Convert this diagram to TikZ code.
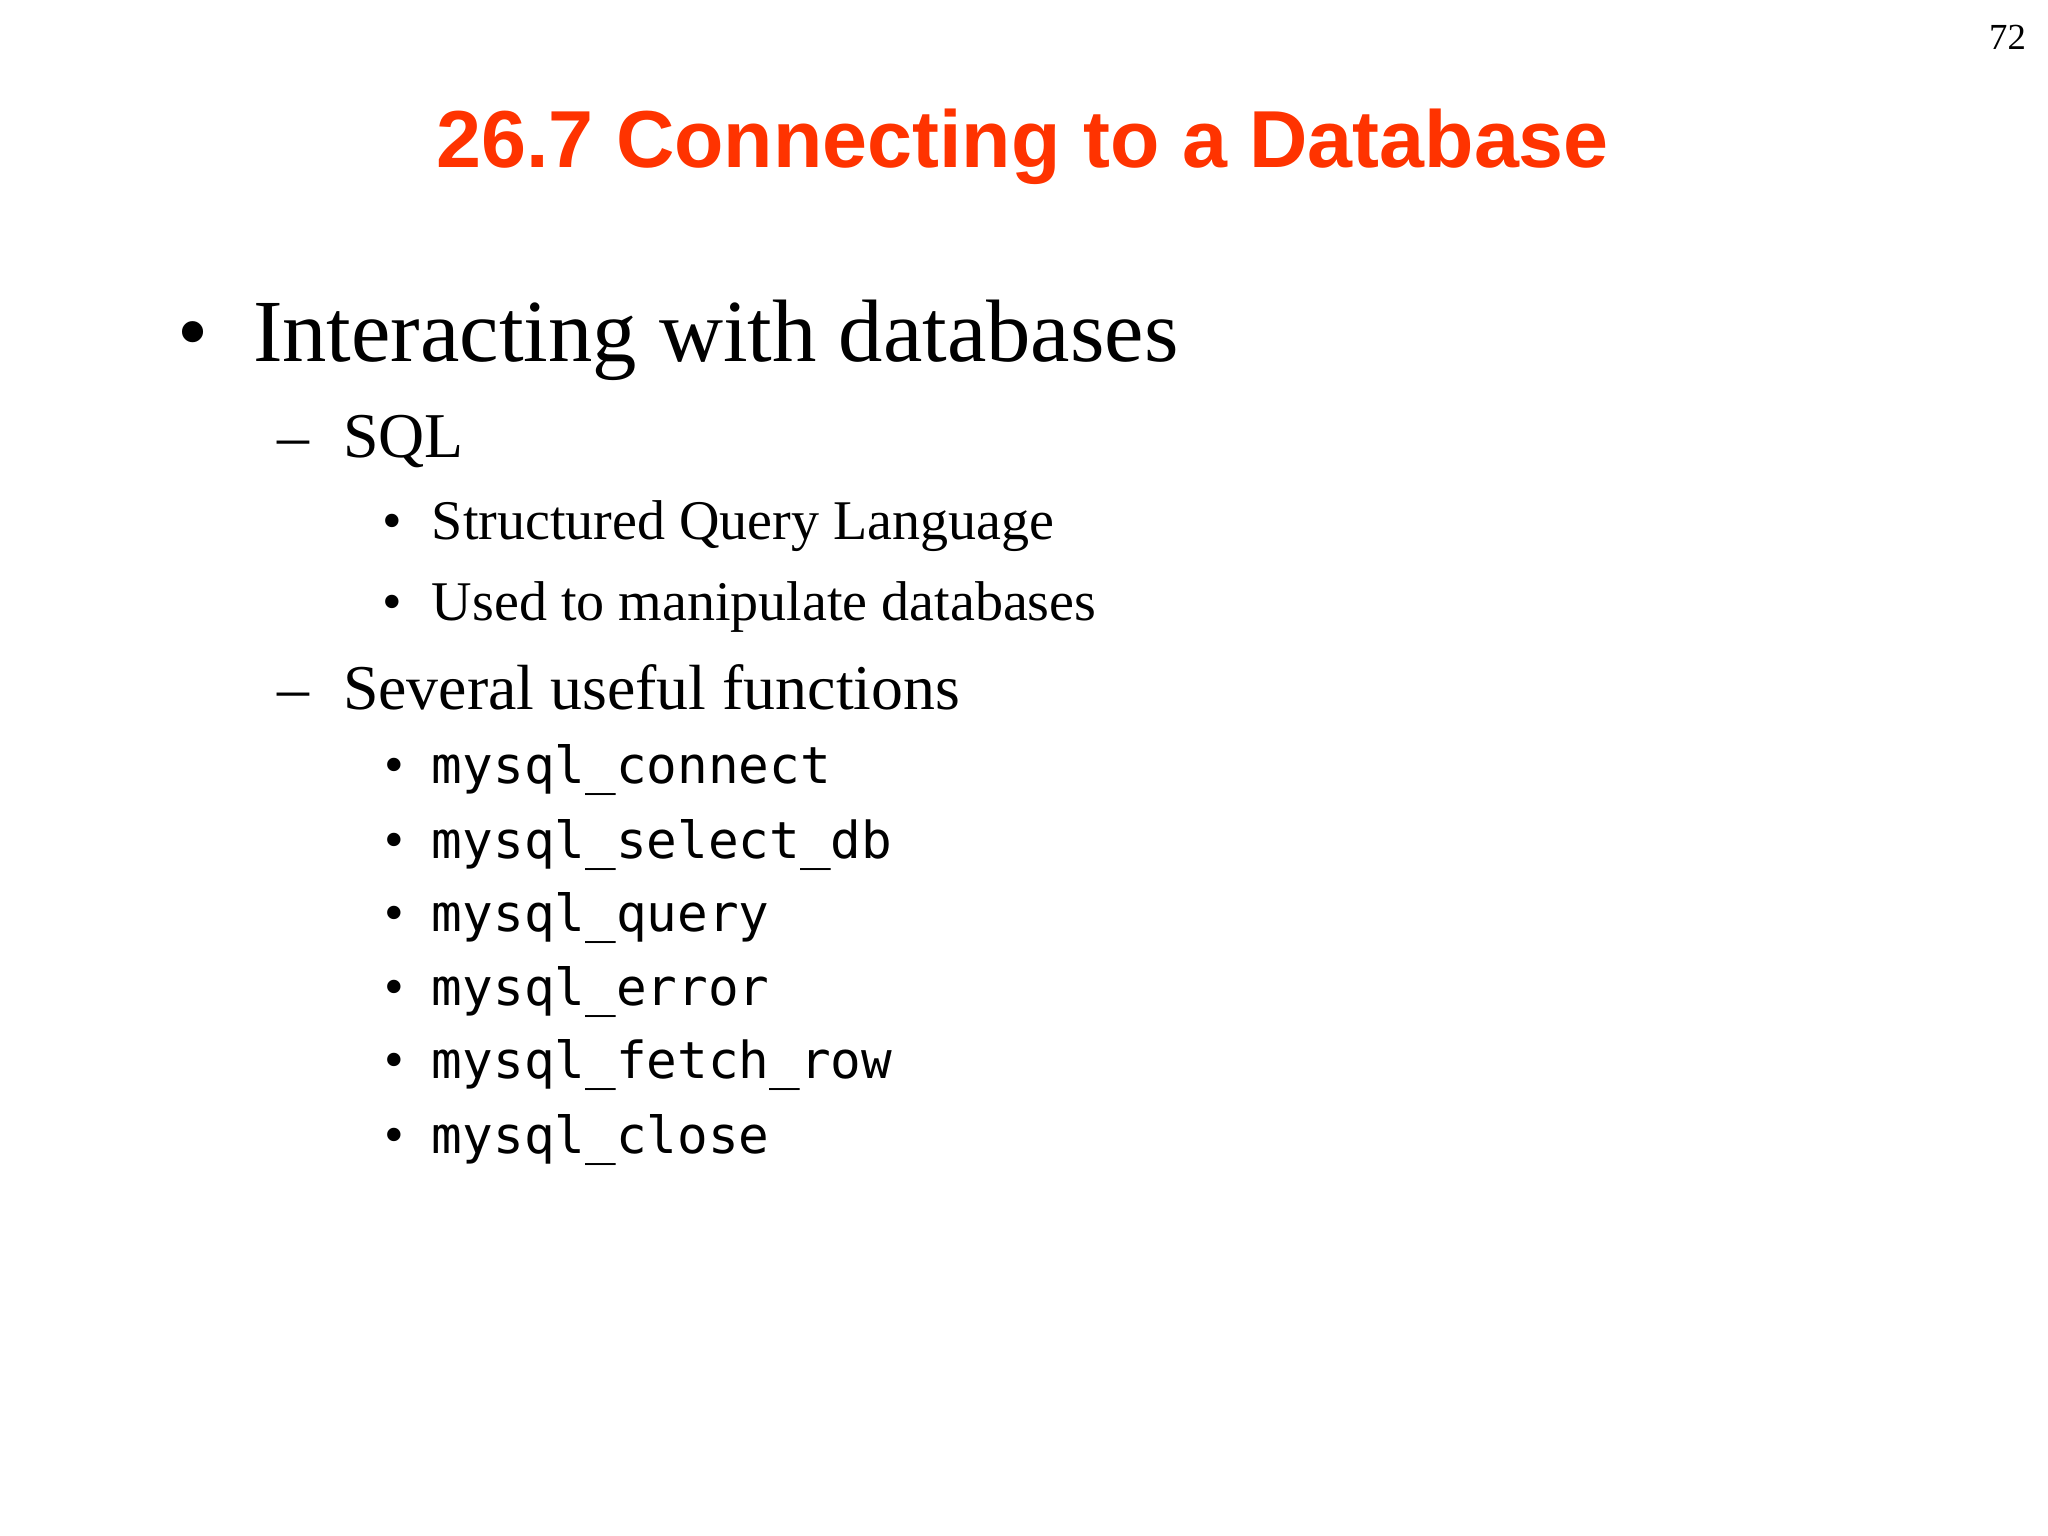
\documentclass[tikz,border=0pt]{standalone}
\usepackage{fontspec}
\setmainfont{Liberation Serif}
\newfontfamily\ttl{Liberation Sans}
\newfontfamily\mono{DejaVu Sans Mono}
\definecolor{ttlc}{HTML}{FF3300}
\begin{document}
\begin{tikzpicture}[x=0.01cm,y=-0.01cm,
  t/.style={anchor=base west,inner sep=0pt},
  l1/.style={t,font=\fontsize{19.3}{22}\selectfont},
  l2/.style={t,font=\fontsize{13.9}{16}\selectfont},
  l3/.style={t,font=\fontsize{12.2}{14}\selectfont},
  mn/.style={t,font=\mono\fontsize{11.1}{13}\selectfont}]
\useasboundingbox (0,0) rectangle (1568,1176);
\node[anchor=base,inner sep=0pt,font=\fontsize{8}{9}\selectfont] (pg) at (1537,38) {72};
\node[anchor=base,inner sep=0pt,font=\ttl\bfseries\fontsize{17.6}{20}\selectfont,text=ttlc] (title) at (783,128) {26.7 Connecting to a Database};
\node[l1] (b1) at (135,277) {\textbullet};
\node[l1] (i1) at (193,277) {Interacting with databases};
\node[l2] (d1) at (212,350) {--};
\node[l2] (i2) at (262,350) {SQL};
\node[l3] (b3) at (292,413) {\textbullet};
\node[l3] (i3) at (330,413) {Structured Query Language};
\node[l3] (b4) at (292,475) {\textbullet};
\node[l3] (i4) at (330,475) {Used to manipulate databases};
\node[l2] (d2) at (212,543) {--};
\node[l2] (i5) at (262,543) {Several useful functions};
\foreach \n/\s [count=\k] in {600/mysql\_connect,657/mysql\_select\_db,713/mysql\_query,770/mysql\_error,826/mysql\_fetch\_row,883/mysql\_close}{
  \node[l3] (mb\k) at (294,\n) {\textbullet};
  \node[mn] (m\k) at (330,\n) {\s};
}
\end{tikzpicture}
\end{document}
